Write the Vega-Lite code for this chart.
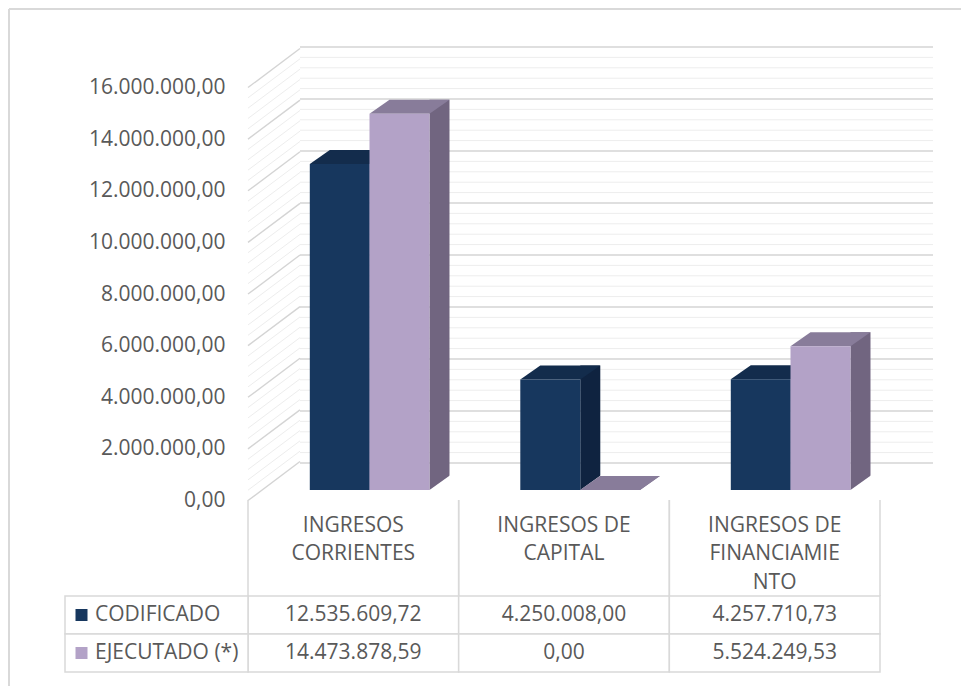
{
  "$schema": "https://vega.github.io/schema/vega-lite/v6.json",
  "width": 952,
  "height": 677,
  "autosize": {"type": "none"},
  "padding": {"left": 9, "top": 9, "right": 0, "bottom": 0},
  "background": "white",
  "config": {
    "font": "Open Sans",
    "view": {"stroke": null},
    "locale": {"number": {"decimal": ",", "thousands": ".", "grouping": [3], "currency": ["", ""]}},
    "text": {"font": "Open Sans", "fontSize": 21, "color": "#595959"}
  },
  "datasets": {
    "d": [
      {"cat": "INGRESOS\nCORRIENTES", "serie": "CODIFICADO", "value": 12535609.72},
      {"cat": "INGRESOS DE\nCAPITAL", "serie": "CODIFICADO", "value": 4250008.00},
      {"cat": "INGRESOS DE\nFINANCIAMIE\nNTO", "serie": "CODIFICADO", "value": 4257710.73},
      {"cat": "INGRESOS\nCORRIENTES", "serie": "EJECUTADO (*)", "value": 14473878.59},
      {"cat": "INGRESOS DE\nCAPITAL", "serie": "EJECUTADO (*)", "value": 0},
      {"cat": "INGRESOS DE\nFINANCIAMIE\nNTO", "serie": "EJECUTADO (*)", "value": 5524249.53}
    ],
    "major": [
      {"v": 0}, {"v": 2000000}, {"v": 4000000}, {"v": 6000000}, {"v": 8000000},
      {"v": 10000000}, {"v": 12000000}, {"v": 14000000}, {"v": 16000000}
    ],
    "minor": [
      {"v": 400000}, {"v": 800000}, {"v": 1200000}, {"v": 1600000},
      {"v": 2400000}, {"v": 2800000}, {"v": 3200000}, {"v": 3600000},
      {"v": 4400000}, {"v": 4800000}, {"v": 5200000}, {"v": 5600000},
      {"v": 6400000}, {"v": 6800000}, {"v": 7200000}, {"v": 7600000},
      {"v": 8400000}, {"v": 8800000}, {"v": 9200000}, {"v": 9600000},
      {"v": 10400000}, {"v": 10800000}, {"v": 11200000}, {"v": 11600000},
      {"v": 12400000}, {"v": 12800000}, {"v": 13200000}, {"v": 13600000},
      {"v": 14400000}, {"v": 14800000}, {"v": 15200000}, {"v": 15600000}
    ]
  },
  "resolve": {"scale": {"x": "independent", "y": "independent", "color": "independent"}},
  "layer": [
    {
      "data": {"values": [{"edge": "top"}]},
      "mark": {"type": "rule", "color": "#d9d9d9", "strokeWidth": 2},
      "encoding": {
        "x": {"datum": 0, "type": "quantitative", "scale": {"domain": [0, 1], "range": [0, 952]}, "axis": null},
        "x2": {"datum": 1},
        "y": {"datum": 0, "type": "quantitative", "scale": {"domain": [0, 1], "range": [0, 677]}, "axis": null}
      }
    },
    {
      "data": {"values": [{"edge": "left"}]},
      "mark": {"type": "rule", "color": "#d9d9d9", "strokeWidth": 2},
      "encoding": {
        "x": {"datum": 0, "type": "quantitative", "scale": {"domain": [0, 1], "range": [0, 952]}, "axis": null},
        "y": {"datum": 0, "type": "quantitative", "scale": {"domain": [0, 1], "range": [0, 677]}, "axis": null},
        "y2": {"datum": 1}
      }
    },
    {
      "data": {"name": "minor"},
      "mark": {"type": "rule", "color": "#ededed", "strokeWidth": 1},
      "encoding": {
        "x": {"datum": 0, "type": "quantitative", "scale": {"domain": [0, 1], "range": [291, 924]}, "axis": null},
        "x2": {"datum": 1},
        "y": {"field": "v", "type": "quantitative", "scale": {"domain": [0, 16000000], "range": [454, 38]}, "axis": null}
      }
    },
    {
      "data": {"name": "minor"},
      "mark": {"type": "rule", "color": "#ededed", "strokeWidth": 1, "y2Offset": -39},
      "encoding": {
        "x": {"datum": 0, "type": "quantitative", "scale": {"domain": [0, 1], "range": [239, 291]}, "axis": null},
        "x2": {"datum": 1},
        "y": {"field": "v", "type": "quantitative", "scale": {"domain": [0, 16000000], "range": [491.5, 78.5]}, "axis": null},
        "y2": {"field": "v"}
      }
    },
    {
      "data": {"name": "major"},
      "mark": {"type": "rule", "color": "#d4d4d4", "strokeWidth": 1.4},
      "encoding": {
        "x": {"datum": 0, "type": "quantitative", "scale": {"domain": [0, 1], "range": [291, 924]}, "axis": null},
        "x2": {"datum": 1},
        "y": {"field": "v", "type": "quantitative", "scale": {"domain": [0, 16000000], "range": [454, 38]}, "axis": null}
      }
    },
    {
      "data": {"name": "major"},
      "mark": {"type": "rule", "color": "#d4d4d4", "strokeWidth": 1.4, "y2Offset": -39},
      "encoding": {
        "x": {"datum": 0, "type": "quantitative", "scale": {"domain": [0, 1], "range": [239, 291]}, "axis": null},
        "x2": {"datum": 1},
        "y": {
          "field": "v", "type": "quantitative",
          "scale": {"domain": [0, 16000000], "range": [491.5, 78.5]},
          "axis": {
            "orient": "left", "offset": -216, "ticks": false, "domain": false, "grid": false,
            "labelPadding": 0, "title": null, "format": ",.2f",
            "values": [0, 2000000, 4000000, 6000000, 8000000, 10000000, 12000000, 14000000, 16000000],
            "labelFont": "Open Sans", "labelFontSize": 21, "labelColor": "#595959",
            "labelFlush": false, "labelOverlap": false
          }
        },
        "y2": {"field": "v"}
      }
    },
    {
      "data": {"name": "d"},
      "transform": [{"filter": "datum.serie == 'CODIFICADO'"}],
      "mark": {"type": "bar", "color": "#0f2340", "width": 20, "xOffset": 40, "yOffset": -14},
      "encoding": {
        "x": {"field": "cat", "type": "nominal", "sort": null, "axis": null,
              "scale": {"type": "band", "range": [300.8, 932.3], "paddingInner": 0.715, "paddingOuter": 0.3575, "align": 0}},
        "y": {"field": "value", "type": "quantitative", "axis": null, "scale": {"domain": [0, 16000000], "range": [481, 65]}},
        "y2": {"datum": 0}
      }
    },
    {
      "data": {"name": "d"},
      "transform": [{"filter": "datum.serie == 'CODIFICADO'"}],
      "mark": {"type": "point", "shape": "M 30 0 L 51 0 L 51 -15 Z", "size": 4, "filled": true, "opacity": 1, "color": "white", "strokeWidth": 0},
      "encoding": {
        "x": {"field": "cat", "type": "nominal", "sort": null, "axis": null,
              "scale": {"type": "band", "range": [300.8, 932.3], "paddingInner": 0.715, "paddingOuter": 0.3575, "align": 0}},
        "y": {"datum": 0, "type": "quantitative", "axis": null, "scale": {"domain": [0, 16000000], "range": [481, 65]}}
      }
    },
    {
      "data": {"name": "d"},
      "transform": [{"filter": "datum.serie == 'CODIFICADO'"}],
      "mark": {"type": "point", "shape": "M -30 0 L 30 0 L 50 -14 L -10 -14 Z", "size": 4, "filled": true, "opacity": 1, "color": "#132c4c", "strokeWidth": 0},
      "encoding": {
        "x": {"field": "cat", "type": "nominal", "sort": null, "axis": null,
              "scale": {"type": "band", "range": [300.8, 932.3], "paddingInner": 0.715, "paddingOuter": 0.3575, "align": 0}},
        "y": {"field": "value", "type": "quantitative", "axis": null, "scale": {"domain": [0, 16000000], "range": [481, 65]}}
      }
    },
    {
      "data": {"name": "d"},
      "transform": [{"filter": "datum.serie != 'CODIFICADO'"}],
      "mark": {"type": "bar", "color": "#716580", "width": 20, "xOffset": 40, "yOffset": -14},
      "encoding": {
        "x": {"field": "cat", "type": "nominal", "sort": null, "axis": null,
              "scale": {"type": "band", "range": [360.5, 992], "paddingInner": 0.715, "paddingOuter": 0.3575, "align": 0}},
        "y": {"field": "value", "type": "quantitative", "axis": null, "scale": {"domain": [0, 16000000], "range": [481, 65]}},
        "y2": {"datum": 0}
      }
    },
    {
      "data": {"name": "d"},
      "transform": [{"filter": "datum.serie != 'CODIFICADO'"}],
      "mark": {"type": "point", "shape": "M 30 0 L 51 0 L 51 -15 Z", "size": 4, "filled": true, "opacity": 1, "color": "white", "strokeWidth": 0},
      "encoding": {
        "x": {"field": "cat", "type": "nominal", "sort": null, "axis": null,
              "scale": {"type": "band", "range": [360.5, 992], "paddingInner": 0.715, "paddingOuter": 0.3575, "align": 0}},
        "y": {"datum": 0, "type": "quantitative", "axis": null, "scale": {"domain": [0, 16000000], "range": [481, 65]}}
      }
    },
    {
      "data": {"name": "d"},
      "transform": [{"filter": "datum.serie != 'CODIFICADO'"}],
      "mark": {"type": "point", "shape": "M -30 0 L 30 0 L 50 -14 L -10 -14 Z", "size": 4, "filled": true, "opacity": 1, "color": "#887c9a", "strokeWidth": 0},
      "encoding": {
        "x": {"field": "cat", "type": "nominal", "sort": null, "axis": null,
              "scale": {"type": "band", "range": [360.5, 992], "paddingInner": 0.715, "paddingOuter": 0.3575, "align": 0}},
        "y": {"field": "value", "type": "quantitative", "axis": null, "scale": {"domain": [0, 16000000], "range": [481, 65]}}
      }
    },
    {
      "data": {"name": "d"},
      "transform": [{"filter": "datum.serie == 'CODIFICADO'"}],
      "mark": {"type": "bar", "color": "#17375e"},
      "encoding": {
        "x": {"field": "cat", "type": "nominal", "sort": null, "axis": null,
              "scale": {"type": "band", "range": [300.8, 932.3], "paddingInner": 0.715, "paddingOuter": 0.3575, "align": 0}},
        "y": {"field": "value", "type": "quantitative", "axis": null, "scale": {"domain": [0, 16000000], "range": [481, 65]}}
      }
    },
    {
      "data": {"name": "d"},
      "transform": [{"filter": "datum.serie != 'CODIFICADO'"}],
      "mark": {"type": "bar", "color": "#b3a2c7"},
      "encoding": {
        "x": {"field": "cat", "type": "nominal", "sort": null, "axis": null,
              "scale": {"type": "band", "range": [360.5, 992], "paddingInner": 0.715, "paddingOuter": 0.3575, "align": 0}},
        "y": {"field": "value", "type": "quantitative", "axis": null, "scale": {"domain": [0, 16000000], "range": [481, 65]}}
      }
    },
    {
      "data": {"name": "d"},
      "transform": [{"filter": "datum.serie == 'CODIFICADO'"}],
      "mark": {"type": "rule", "color": "#d9d9d9", "strokeWidth": 1.5},
      "encoding": {
        "x": {"field": "cat", "type": "nominal", "sort": null, "bandPosition": 0, "axis": null,
              "scale": {"type": "band", "range": [239, 871], "paddingInner": 0, "paddingOuter": 0}},
        "y": {"datum": 0, "type": "quantitative", "scale": {"domain": [0, 1], "range": [491, 587]}, "axis": null},
        "y2": {"datum": 1}
      }
    },
    {
      "data": {"name": "d"},
      "transform": [{"filter": "datum.serie == 'CODIFICADO'"}],
      "mark": {"type": "rule", "color": "#d9d9d9", "strokeWidth": 1.5},
      "encoding": {
        "x": {"field": "cat", "type": "nominal", "sort": null, "bandPosition": 1, "axis": null,
              "scale": {"type": "band", "range": [239, 871], "paddingInner": 0, "paddingOuter": 0}},
        "y": {"datum": 0, "type": "quantitative", "scale": {"domain": [0, 1], "range": [491, 587]}, "axis": null},
        "y2": {"datum": 1}
      }
    },
    {
      "data": {"name": "d"},
      "transform": [{"filter": "datum.serie == 'CODIFICADO'"}],
      "mark": {"type": "text", "baseline": "top", "align": "center", "lineBreak": "\n", "lineHeight": 28.5, "dy": 14.5},
      "encoding": {
        "x": {"field": "cat", "type": "nominal", "sort": null, "axis": null,
              "scale": {"type": "band", "range": [239, 871], "paddingInner": 0, "paddingOuter": 0}},
        "y": {"datum": 0, "type": "quantitative", "scale": {"domain": [0, 1], "range": [491, 587]}, "axis": null},
        "text": {"field": "cat"}
      }
    },
    {
      "data": {"name": "d"},
      "mark": {"type": "rect", "fill": "white", "stroke": "#d9d9d9", "strokeWidth": 1.5},
      "encoding": {
        "x": {"field": "cat", "type": "nominal", "sort": null, "axis": null,
              "scale": {"type": "band", "range": [239, 871], "paddingInner": 0, "paddingOuter": 0}},
        "y": {"field": "serie", "type": "nominal", "sort": null, "axis": null,
              "scale": {"type": "band", "range": [587, 663], "paddingInner": 0, "paddingOuter": 0}}
      }
    },
    {
      "data": {"name": "d"},
      "mark": {"type": "text", "baseline": "middle", "align": "center"},
      "encoding": {
        "x": {"field": "cat", "type": "nominal", "sort": null, "axis": null,
              "scale": {"type": "band", "range": [239, 871], "paddingInner": 0, "paddingOuter": 0}},
        "y": {"field": "serie", "type": "nominal", "sort": null, "axis": null,
              "scale": {"type": "band", "range": [587, 663], "paddingInner": 0, "paddingOuter": 0}},
        "text": {"field": "value", "type": "quantitative", "format": ",.2f"}
      }
    },
    {
      "data": {"name": "d"},
      "transform": [{"filter": "datum.cat == 'INGRESOS\\nCORRIENTES'"}],
      "mark": {"type": "rect", "fill": "white", "stroke": "#d9d9d9", "strokeWidth": 1.5},
      "encoding": {
        "x": {"datum": 0, "type": "quantitative", "scale": {"domain": [0, 1], "range": [56, 239]}, "axis": null},
        "x2": {"datum": 1},
        "y": {"field": "serie", "type": "nominal", "sort": null, "axis": null,
              "scale": {"type": "band", "range": [587, 663], "paddingInner": 0, "paddingOuter": 0}}
      }
    },
    {
      "data": {"name": "d"},
      "transform": [{"filter": "datum.cat == 'INGRESOS\\nCORRIENTES'"}],
      "mark": {"type": "point", "shape": "square", "filled": true, "size": 144, "opacity": 1, "xOffset": 16.5},
      "encoding": {
        "x": {"datum": 0, "type": "quantitative", "scale": {"domain": [0, 1], "range": [56, 239]}, "axis": null},
        "y": {"field": "serie", "type": "nominal", "sort": null, "axis": null,
              "scale": {"type": "band", "range": [587, 663], "paddingInner": 0, "paddingOuter": 0}},
        "color": {"field": "serie", "type": "nominal", "legend": null,
                  "scale": {"domain": ["CODIFICADO", "EJECUTADO (*)"], "range": ["#17375e", "#b3a2c7"]}}
      }
    },
    {
      "data": {"name": "d"},
      "transform": [{"filter": "datum.cat == 'INGRESOS\\nCORRIENTES'"}],
      "mark": {"type": "text", "baseline": "middle", "align": "left", "xOffset": 30},
      "encoding": {
        "x": {"datum": 0, "type": "quantitative", "scale": {"domain": [0, 1], "range": [56, 239]}, "axis": null},
        "y": {"field": "serie", "type": "nominal", "sort": null, "axis": null,
              "scale": {"type": "band", "range": [587, 663], "paddingInner": 0, "paddingOuter": 0}},
        "text": {"field": "serie"}
      }
    }
  ]
}
